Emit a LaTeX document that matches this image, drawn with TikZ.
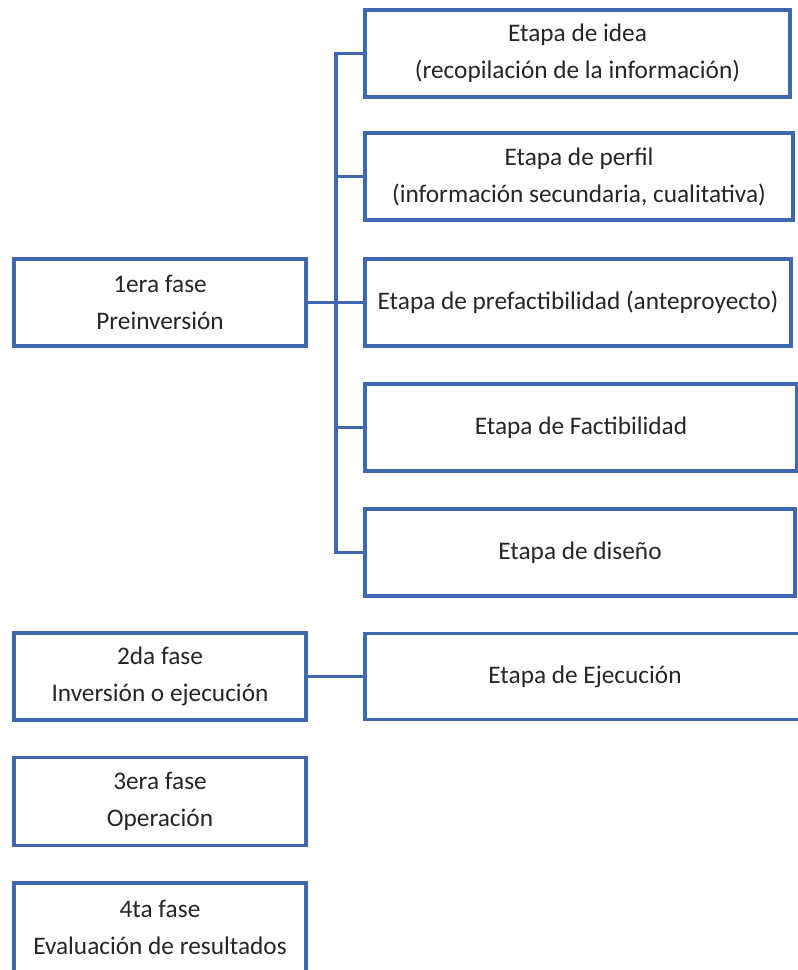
\documentclass[tikz,border=0pt]{standalone}
\usepackage{fontspec}
\setmainfont{Carlito}
\definecolor{boxblue}{RGB}{64,104,178}
\begin{document}
\begin{tikzpicture}[x=1pt,y=-1pt,
  box/.style={draw=boxblue,line width=3.4pt,fill=white,inner sep=0pt,align=center,
    font=\fontsize{25.3}{37}\selectfont,text=black!85},
  conn/.style={draw=boxblue,line width=3.4pt,line join=miter}]
\useasboundingbox (0,0) rectangle (798,970);
% left column
\node[box,minimum width=292pt,minimum height=87pt] (f1) at (160,302.5) {1era fase\\Preinversión};
\node[box,minimum width=292pt,minimum height=87pt] (f2) at (160,676.5) {2da fase\\Inversión o ejecución};
\node[box,minimum width=292pt,minimum height=88pt] (f3) at (160,801.5) {3era fase\\Operación};
\node[box,minimum width=292pt,minimum height=89pt] (f4) at (160,927.5) {4ta fase\\Evaluación de resultados};
% right column
\node[box,minimum width=425pt,minimum height=87pt] (idea) at (577.5,53.5) {Etapa de idea\\(recopilación de la información)};
\node[box,minimum width=428pt,minimum height=87pt] (perfil) at (579,176.5) {Etapa de perfil\\(información secundaria, cualitativa)};
\node[box,minimum width=426pt,minimum height=87pt] (pref) at (578,302.5) {Etapa de prefactibilidad (anteproyecto)};
\node[box,minimum width=432pt,minimum height=87pt] (fact) at (581,427.5) {Etapa de Factibilidad};
\node[box,minimum width=430pt,minimum height=87pt] (dis) at (580,552.5) {Etapa de diseño};
\node[box,minimum width=440pt,minimum height=86pt] (ejec) at (585,676.5) {Etapa de Ejecución};
\coordinate (sp) at (336,0);
% connectors
\draw[conn] (idea.west) -| (sp |- dis.west) -- (dis.west);
\draw[conn] (sp |- perfil.west) -- (perfil.west);
\draw[conn] (sp |- pref.west) -- (pref.west);
\draw[conn] (sp |- fact.west) -- (fact.west);
\draw[conn] (f1.east) -- (sp |- f1.east);
\draw[conn] (f2.east) -- (ejec.west);
\end{tikzpicture}
\end{document}
